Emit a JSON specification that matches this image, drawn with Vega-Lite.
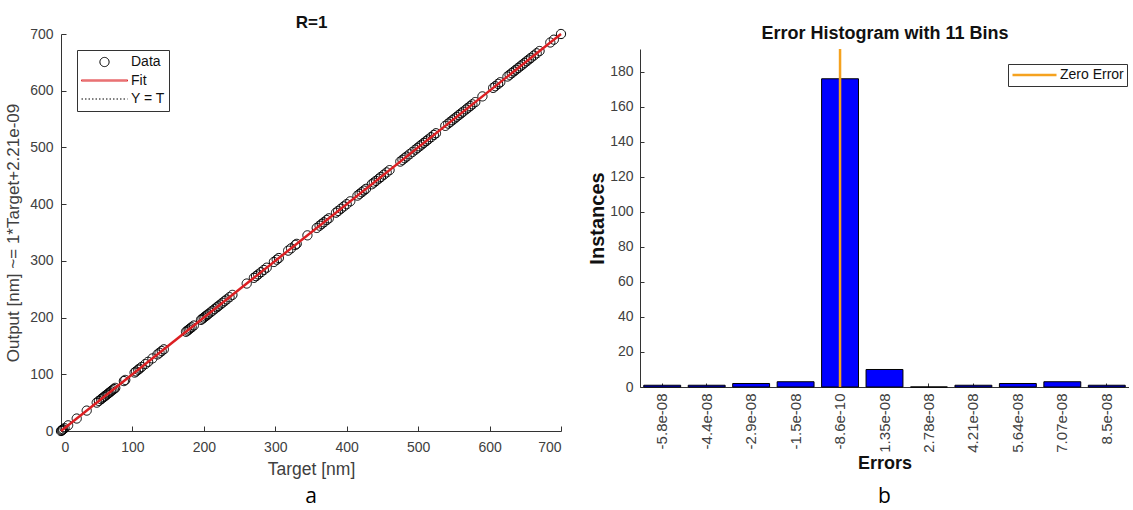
{
  "$schema": "https://vega.github.io/schema/vega-lite/v6.json",
  "background": "white",
  "padding": {"left": 4, "top": 13, "right": 0, "bottom": 0},
  "config": {
    "font": "Liberation Sans",
    "view": {"stroke": null},
    "axis": {"grid": false, "labelFont": "Liberation Sans", "titleFont": "Liberation Sans", "labelColor": "#404040", "titleColor": "#404040", "domainColor": "#333333", "tickColor": "#333333", "labelFontSize": 14, "labelOverlap": false},
    "legend": {"title": null, "strokeColor": "#333333", "fillColor": "#ffffff", "labelFontSize": 14, "labelColor": "#111111", "labelFont": "Liberation Sans", "clipHeight": 16}
  },
  "bounds": "flush",
  "spacing": 79,
  "resolve": {"scale": {"color": "independent", "shape": "independent", "strokeDash": "independent"}, "legend": {"color": "independent", "shape": "independent", "strokeDash": "independent"}},
  "datasets": {
    "scatter": [
      {"target": 0, "output": 0}, {"target": 1, "output": 1}, {"target": 2, "output": 2}, {"target": 3, "output": 3}, {"target": 5, "output": 5},
      {"target": 10, "output": 10}, {"target": 22, "output": 22}, {"target": 36, "output": 36}, {"target": 50, "output": 50}, {"target": 53, "output": 53},
      {"target": 56, "output": 56}, {"target": 58, "output": 58}, {"target": 60, "output": 60}, {"target": 62, "output": 62}, {"target": 64, "output": 64},
      {"target": 66, "output": 66}, {"target": 68, "output": 68}, {"target": 70, "output": 70}, {"target": 72, "output": 72}, {"target": 74, "output": 74},
      {"target": 76, "output": 76}, {"target": 88, "output": 88}, {"target": 90, "output": 90}, {"target": 103, "output": 103}, {"target": 105, "output": 105},
      {"target": 108, "output": 108}, {"target": 110, "output": 110}, {"target": 113, "output": 113}, {"target": 118, "output": 118}, {"target": 122, "output": 122},
      {"target": 128, "output": 128}, {"target": 135, "output": 135}, {"target": 138, "output": 138}, {"target": 141, "output": 141}, {"target": 144, "output": 144},
      {"target": 175, "output": 175}, {"target": 177, "output": 177}, {"target": 179, "output": 179}, {"target": 181, "output": 181}, {"target": 183, "output": 183},
      {"target": 186, "output": 186}, {"target": 196, "output": 196}, {"target": 198, "output": 198}, {"target": 200, "output": 200}, {"target": 202, "output": 202},
      {"target": 204, "output": 204}, {"target": 206, "output": 206}, {"target": 209, "output": 209}, {"target": 212, "output": 212}, {"target": 215, "output": 215},
      {"target": 218, "output": 218}, {"target": 220, "output": 220}, {"target": 223, "output": 223}, {"target": 226, "output": 226}, {"target": 229, "output": 229},
      {"target": 232, "output": 232}, {"target": 236, "output": 236}, {"target": 240, "output": 240}, {"target": 260, "output": 260}, {"target": 270, "output": 270},
      {"target": 273, "output": 273}, {"target": 276, "output": 276}, {"target": 280, "output": 280}, {"target": 284, "output": 284}, {"target": 288, "output": 288},
      {"target": 298, "output": 298}, {"target": 302, "output": 302}, {"target": 305, "output": 305}, {"target": 318, "output": 318}, {"target": 322, "output": 322},
      {"target": 328, "output": 328}, {"target": 330, "output": 330}, {"target": 345, "output": 345}, {"target": 358, "output": 358}, {"target": 362, "output": 362},
      {"target": 365, "output": 365}, {"target": 368, "output": 368}, {"target": 372, "output": 372}, {"target": 375, "output": 375}, {"target": 385, "output": 385},
      {"target": 388, "output": 388}, {"target": 392, "output": 392}, {"target": 396, "output": 396}, {"target": 400, "output": 400}, {"target": 405, "output": 405},
      {"target": 415, "output": 415}, {"target": 418, "output": 418}, {"target": 421, "output": 421}, {"target": 424, "output": 424}, {"target": 427, "output": 427},
      {"target": 435, "output": 435}, {"target": 438, "output": 438}, {"target": 441, "output": 441}, {"target": 445, "output": 445}, {"target": 448, "output": 448},
      {"target": 452, "output": 452}, {"target": 456, "output": 456}, {"target": 460, "output": 460}, {"target": 475, "output": 475}, {"target": 478, "output": 478},
      {"target": 481, "output": 481}, {"target": 484, "output": 484}, {"target": 488, "output": 488}, {"target": 492, "output": 492}, {"target": 496, "output": 496},
      {"target": 499, "output": 499}, {"target": 502, "output": 502}, {"target": 505, "output": 505}, {"target": 508, "output": 508}, {"target": 511, "output": 511},
      {"target": 514, "output": 514}, {"target": 518, "output": 518}, {"target": 522, "output": 522}, {"target": 525, "output": 525}, {"target": 538, "output": 538},
      {"target": 542, "output": 542}, {"target": 545, "output": 545}, {"target": 548, "output": 548}, {"target": 551, "output": 551}, {"target": 554, "output": 554},
      {"target": 557, "output": 557}, {"target": 560, "output": 560}, {"target": 563, "output": 563}, {"target": 567, "output": 567}, {"target": 570, "output": 570},
      {"target": 573, "output": 573}, {"target": 576, "output": 576}, {"target": 580, "output": 580}, {"target": 590, "output": 590}, {"target": 605, "output": 605},
      {"target": 608, "output": 608}, {"target": 612, "output": 612}, {"target": 615, "output": 615}, {"target": 625, "output": 625}, {"target": 628, "output": 628},
      {"target": 631, "output": 631}, {"target": 634, "output": 634}, {"target": 637, "output": 637}, {"target": 640, "output": 640}, {"target": 643, "output": 643},
      {"target": 646, "output": 646}, {"target": 649, "output": 649}, {"target": 652, "output": 652}, {"target": 655, "output": 655}, {"target": 658, "output": 658},
      {"target": 662, "output": 662}, {"target": 666, "output": 666}, {"target": 670, "output": 670}, {"target": 685, "output": 685}, {"target": 690, "output": 690},
      {"target": 700, "output": 700}
    ],
    "fit": [{"target": 0, "output": 0}, {"target": 700, "output": 700}],
    "identity": [{"target": 0, "output": 0}, {"target": 700, "output": 700}],
    "bins": [
      {"bin": "-5.8e-08", "count": 1}, {"bin": "-4.4e-08", "count": 1}, {"bin": "-2.9e-08", "count": 2}, {"bin": "-1.5e-08", "count": 3},
      {"bin": "-8.6e-10", "count": 176}, {"bin": "1.35e-08", "count": 10}, {"bin": "2.78e-08", "count": 0}, {"bin": "4.21e-08", "count": 1},
      {"bin": "5.64e-08", "count": 2}, {"bin": "7.07e-08", "count": 3}, {"bin": "8.5e-08", "count": 1}
    ],
    "zero": [{"bin": "-8.6e-10", "count": 0, "high": 193}]
  },
  "hconcat": [
    {
      "width": 500,
      "height": 397,
      "title": {"text": "a", "orient": "bottom", "font": "Open Sans", "fontSize": 21, "fontWeight": "normal", "color": "#000000", "offset": 8},
      "resolve": {"axis": {"x": "independent"}},
      "layer": [
        {
          "data": {"name": "scatter"},
          "mark": {"type": "point", "filled": false, "size": 2116, "strokeWidth": 1, "opacity": 1},
          "encoding": {
            "x": {"field": "target", "type": "quantitative", "scale": {"domain": [0, 700], "nice": false},
              "axis": {"orient": "bottom", "values": [0, 100, 200, 300, 400, 500, 600, 700], "tickSize": -5, "labelPadding": 14, "title": "Target [nm]", "titleFontSize": 17.5, "titleFontWeight": "normal", "titlePadding": 6}},
            "y": {"field": "output", "type": "quantitative", "scale": {"domain": [0, 700], "nice": false},
              "axis": {"values": [0, 100, 200, 300, 400, 500, 600, 700], "tickSize": -5, "labelPadding": 13, "title": "Output [nm] ~= 1*Target+2.21e-09", "titleFontSize": 17, "titleFontWeight": "normal", "titlePadding": 7}},
            "color": {"datum": "Data", "scale": {"domain": ["Data", "Fit", "Y = T"], "range": ["#000000", "#dc1f22", "#000000"]},
              "legend": {"orient": "none", "legendX": 16, "legendY": 16, "padding": 4, "symbolSize": 2116, "symbolStrokeWidth": 1, "rowPadding": 2.5, "labelOffset": 3}},
            "shape": {"datum": "Data", "scale": {"domain": ["Data", "Fit", "Y = T"], "range": ["M-0.2,0A0.2,0.2,0,1,0,0.2,0A0.2,0.2,0,1,0,-0.2,0Z", "M-1,-0.025H1V0.025H-1Z", "stroke"]},
              "legend": {"orient": "none", "legendX": 16, "legendY": 16, "padding": 4, "symbolSize": 2116, "symbolStrokeWidth": 1, "rowPadding": 2.5, "labelOffset": 3}},
            "strokeDash": {"datum": "Data", "scale": {"domain": ["Data", "Fit", "Y = T"], "range": [[1, 0], [1, 0], [1.5, 2]]},
              "legend": {"orient": "none", "legendX": 16, "legendY": 16, "padding": 4, "symbolSize": 2116, "symbolStrokeWidth": 1, "rowPadding": 2.5, "labelOffset": 3}}
          }
        },
        {
          "data": {"name": "identity"},
          "mark": {"type": "line", "strokeWidth": 1, "strokeDash": [1.5, 2], "color": "#000000"},
          "encoding": {
            "x": {"field": "target", "type": "quantitative", "axis": null},
            "y": {"field": "output", "type": "quantitative"}
          }
        },
        {
          "data": {"name": "fit"},
          "mark": {"type": "line", "strokeWidth": 2.5, "color": "#dc1f22"},
          "encoding": {
            "x": {"field": "target", "type": "quantitative",
              "axis": {"orient": "top", "labels": false, "ticks": false, "domain": false, "title": "R=1", "titleFontSize": 17, "titleFontWeight": "bold", "titleColor": "#111111", "titlePadding": 3}},
            "y": {"field": "output", "type": "quantitative"}
          }
        }
      ]
    },
    {
      "width": 489,
      "height": 353,
      "title": {"text": "b", "orient": "bottom", "font": "Open Sans", "fontSize": 21, "fontWeight": "normal", "color": "#000000", "offset": 14},
      "resolve": {"axis": {"x": "independent"}},
      "layer": [
        {
          "data": {"name": "bins"},
          "mark": {"type": "bar", "color": "#0000ff", "stroke": "#000000", "strokeWidth": 1},
          "encoding": {
            "x": {"field": "bin", "type": "ordinal", "sort": null,
              "scale": {"domain": ["-5.8e-08", "-4.4e-08", "-2.9e-08", "-1.5e-08", "-8.6e-10", "1.35e-08", "2.78e-08", "4.21e-08", "5.64e-08", "7.07e-08", "8.5e-08"], "range": [0, 489], "paddingInner": 0.17, "paddingOuter": 0.085},
              "axis": {"orient": "bottom", "labelAngle": 270, "labelAlign": "right", "labelBaseline": "middle", "labelFontSize": 15, "tickSize": -4, "labelPadding": 10, "title": "Errors", "titleFontSize": 18, "titleFontWeight": "bold", "titleColor": "#111111", "titlePadding": 2}},
            "y": {"field": "count", "type": "quantitative", "scale": {"domain": [0, 193], "nice": false, "range": [353, 15]},
              "axis": {"values": [0, 20, 40, 60, 80, 100, 120, 140, 160, 180], "tickSize": -4, "labelPadding": 11, "title": "Instances", "titleFontSize": 20, "titleFontWeight": "bold", "titleColor": "#111111", "titlePadding": 2}}
          }
        },
        {
          "data": {"name": "zero"},
          "mark": {"type": "rule", "strokeWidth": 2.5},
          "encoding": {
            "x": {"field": "bin", "type": "ordinal",
              "axis": {"orient": "top", "labels": false, "ticks": false, "domain": false, "title": "Error Histogram with 11 Bins", "titleFontSize": 18, "titleFontWeight": "bold", "titleColor": "#111111", "titlePadding": -8}},
            "y": {"field": "count", "type": "quantitative",
              "axis": {"values": [0, 20, 40, 60, 80, 100, 120, 140, 160, 180], "tickSize": -4, "labelPadding": 11, "title": "Instances", "titleFontSize": 20, "titleFontWeight": "bold", "titleColor": "#111111", "titlePadding": 2}},
            "y2": {"field": "high"},
            "color": {"datum": "Zero Error", "scale": {"domain": ["Zero Error"], "range": ["#f5a21f"]},
              "legend": {"orient": "none", "legendX": 368, "legendY": 30, "symbolType": "stroke", "symbolSize": 1936, "symbolStrokeWidth": 2.5, "padding": 3, "labelOffset": 2}}
          }
        }
      ]
    }
  ]
}
